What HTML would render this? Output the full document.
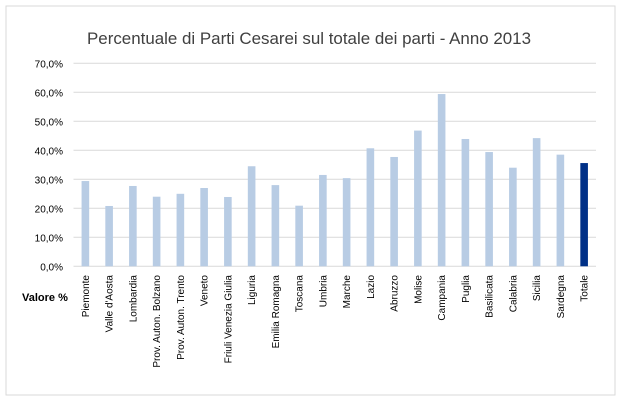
<!DOCTYPE html>
<html><head><meta charset="utf-8"><style>
body{margin:0;background:#fff;font-family:"Liberation Sans",sans-serif}
</style></head><body>
<svg width="621" height="414" id="c">
<rect x="6" y="6" width="609" height="389" fill="#fff" stroke="#d9d9d9"/>
<text x="87" y="44" textLength="444" lengthAdjust="spacingAndGlyphs" font-size="17" fill="#404040">Percentuale di Parti Cesarei sul totale dei parti - Anno 2013</text>
<text x="22" y="301" font-size="11" font-weight="bold" fill="#000">Valore %</text>
<g id="g"></g>
</svg>
<script>
const categories=["Piemonte","Valle d'Aosta","Lombardia","Prov. Auton. Bolzano","Prov. Auton. Trento","Veneto","Friuli Venezia Giulia","Liguria","Emilia Romagna","Toscana","Umbria","Marche","Lazio","Abruzzo","Molise","Campania","Puglia","Basilicata","Calabria","Sicilia","Sardegna","Totale"];
const values=[29.4,20.8,27.7,24.0,25.0,27.0,23.9,34.5,28.0,20.9,31.5,30.4,40.7,37.7,46.8,59.4,43.9,39.4,34.0,44.2,38.5,35.6];
const ticks=[0,10,20,30,40,50,60,70];
const tickLabels=["0,0%","10,0%","20,0%","30,0%","40,0%","50,0%","60,0%","70,0%"];
const NS="http://www.w3.org/2000/svg",g=document.getElementById('g');
const x0=73.5,x1=596,y0=266.3,yTop=63.3;
const y=v=>y0-(v/70)*(y0-yTop);
const step=(x1-x0)/categories.length;
const xc=i=>x0+step*(i+0.5);
function mk(t,a){const e=document.createElementNS(NS,t);for(const k in a)e.setAttribute(k,a[k]);g.appendChild(e);return e;}
ticks.forEach((t,i)=>{
 const l=mk('line',{x1:x0,x2:x1,y1:y(t),y2:y(t),stroke:'#d9d9d9','stroke-width':1});
 
 
 const tx=mk('text',{x:63,y:y(t)+4,'text-anchor':'end','font-size':10,fill:'#000'});
 tx.textContent=tickLabels[i];
 
 
});
categories.forEach((c,i)=>{
 const last=i===categories.length-1;
 const r=mk('rect',{x:xc(i)-3.8,y:y(values[i]),width:7.6,height:y0-y(values[i]),fill:last?'#003087':'#b8cce4'});
 
 
 const t=mk('text',{transform:`translate(${xc(i)+3.5},275) rotate(-90)`,'text-anchor':'end','font-size':10,fill:'#000'});
 t.textContent=c;
 
 
});
</script>
</body></html>
